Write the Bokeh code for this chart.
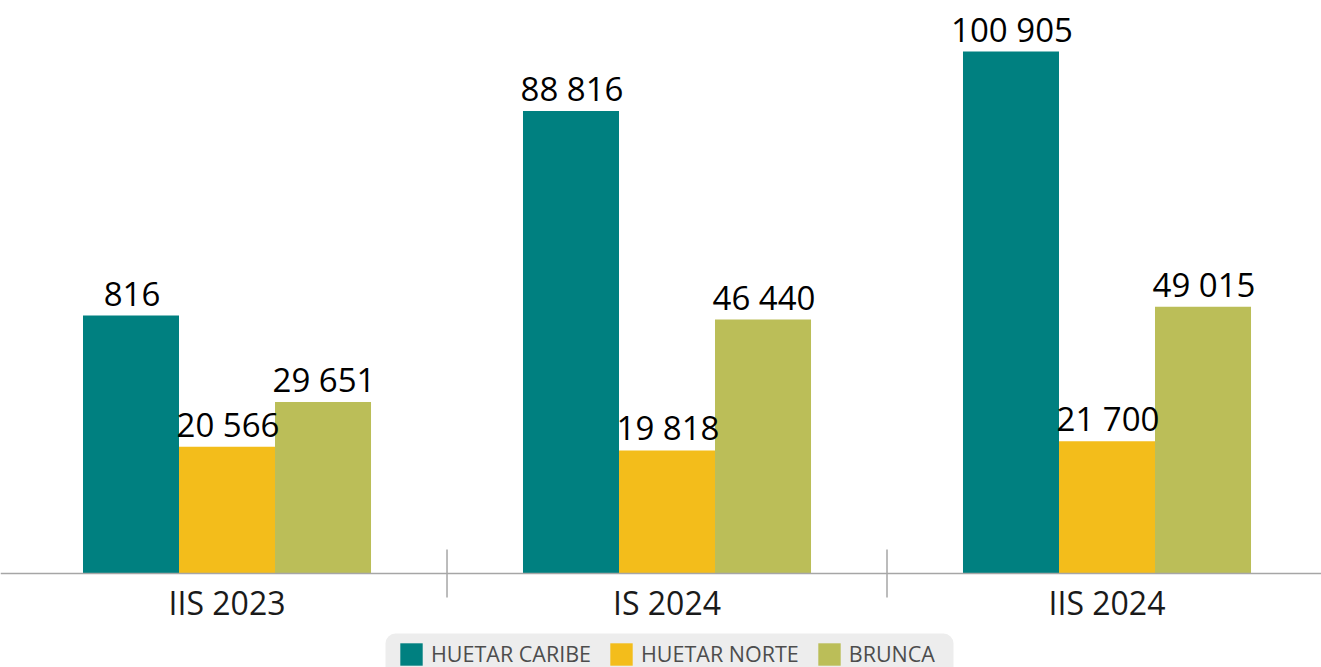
from bokeh.plotting import figure
from bokeh.models import ColumnDataSource, Range1d, LabelSet, Span, Legend, LegendItem, BoxAnnotation
from bokeh.core.properties import value
from bokeh.embed import file_html
from bokeh.resources import INLINE

# ---- data ----
categories = ["IIS 2023", "IS 2024", "IIS 2024"]
series_names = ["HUETAR CARIBE", "HUETAR NORTE", "BRUNCA"]
huetar_caribe = [47250, 88816, 100905]
huetar_norte = [20566, 19818, 21700]
brunca = [29651, 46440, 49015]
# labels as printed in the chart (first one appears truncated in the source)
labels_caribe = ["816", "88 816", "100 905"]
labels_norte = ["20 566", "19 818", "21 700"]
labels_brunca = ["29 651", "46 440", "49 015"]
colors = ["#008080", "#F3BD1B", "#BBBE58"]

AXIS_MIN = -5180          # bars start at the axis minimum
FONT = "Open Sans"

p = figure(width=1321, height=667, output_backend="svg", toolbar_location=None,
           x_range=Range1d(-0.0148, 2.9875), y_range=Range1d(-24284, 111271),
           x_axis_location=None, y_axis_location=None,
           min_border=0, outline_line_color=None, background_fill_color="white")
p.grid.visible = False

centers = [i + 0.5 for i in range(len(categories))]
bw = 0.2182
offsets = [-bw, 0.0, bw]
all_vals = [huetar_caribe, huetar_norte, brunca]
all_labels = [labels_caribe, labels_norte, labels_brunca]

items = []
for k, (vals, labs) in enumerate(zip(all_vals, all_labels)):
    src = ColumnDataSource(dict(x=[c + offsets[k] for c in centers], top=vals,
                                bottom=[AXIS_MIN] * len(vals), lab=labs))
    r = p.vbar(x="x", top="top", bottom="bottom", width=bw, source=src,
               fill_color=colors[k], line_color=None)
    items.append(LegendItem(label=series_names[k], renderers=[r]))
    p.add_layout(LabelSet(x="x", y="top", text="lab", source=src, y_offset=10, x_offset=1,
                          text_align="center", text_baseline="alphabetic",
                          text_font=value(FONT), text_font_size="33px", text_color="#000000"))

# category axis line, separators and labels
p.add_layout(Span(location=AXIS_MIN, dimension="width", line_color="#A6A6A6", line_width=1.5))
sep_x = [float(i) for i in range(1, len(categories))]
sep_half = 4880
p.segment(x0=sep_x, x1=sep_x, y0=[AXIS_MIN - sep_half] * len(sep_x),
          y1=[AXIS_MIN + sep_half] * len(sep_x), line_color="#A6A6A6", line_width=1.5)
cat_src = ColumnDataSource(dict(x=centers, y=[AXIS_MIN] * len(centers), t=categories))
p.add_layout(LabelSet(x="x", y="y", text="t", source=cat_src, y_offset=-42,
                      text_align="center", text_baseline="alphabetic",
                      text_font=value(FONT), text_font_size="32px", text_color="#1A1A1A"))

# legend panel background (rounded, light grey)
p.add_layout(BoxAnnotation(left=385, right=953, bottom=-12, top=34,
                           left_units="screen", right_units="screen",
                           top_units="screen", bottom_units="screen",
                           fill_color="#EDEDED", fill_alpha=1.0, line_color=None,
                           border_radius=10, level="underlay"))

legend = Legend(items=items, orientation="horizontal", location=(397, -1),
                glyph_width=28, glyph_height=28, label_standoff=6, spacing=16,
                padding=10, margin=0, label_height=28,
                label_text_font=FONT, label_text_font_size="21.5px", label_text_color="#4D4D4D",
                label_text_baseline="middle",
                background_fill_alpha=0.0, border_line_color=None)
p.add_layout(legend)

open("out.html", "w").write(file_html(p, INLINE))
